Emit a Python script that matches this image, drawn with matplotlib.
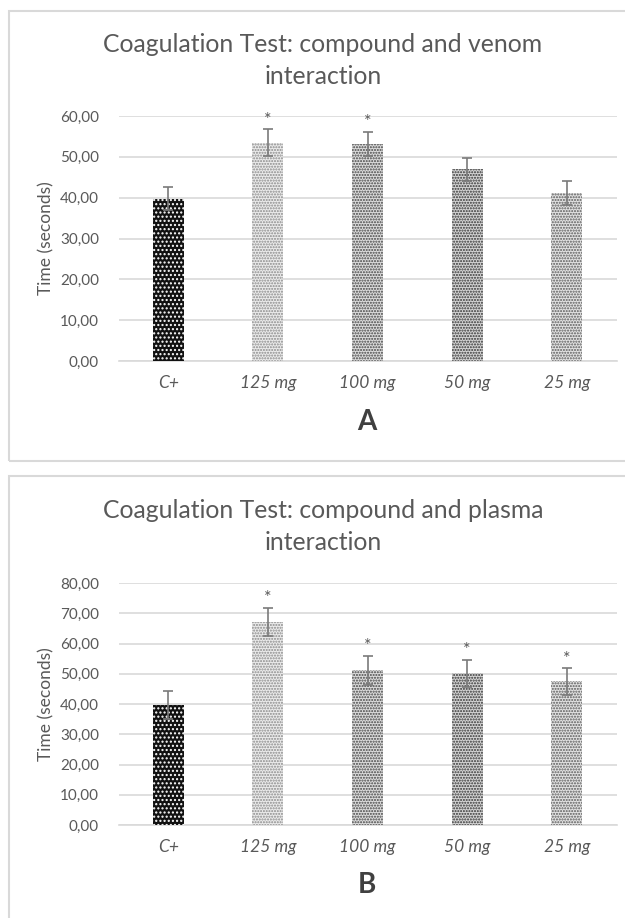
import numpy as np
import matplotlib.pyplot as plt
from matplotlib.patches import Rectangle

# data
categories = ['C+', '125 mg', '100 mg', '50 mg', '25 mg']

venom_means = [39.7, 53.5, 53.2, 46.9, 41.1]
venom_err = [2.8, 3.2, 3.0, 2.9, 3.0]
venom_star = [False, True, True, False, False]
venom_ticks = [0, 10, 20, 30, 40, 50, 60]

plasma_means = [39.7, 67.1, 51.2, 50.2, 47.5]
plasma_err = [4.6, 4.7, 4.8, 4.5, 4.4]
plasma_star = [False, True, True, True, True]
plasma_ticks = [0, 10, 20, 30, 40, 50, 60, 70, 80]

# bar looks (face, dot colour, hatch)
bar_face = ['#111111', '#ebebeb', '#dcdcdc', '#d4d4d4', '#e2e2e2']
bar_dots = ['white', '#8a8a8a', '#444444', '#333333', '#5a5a5a']
bar_hatch = ['....', '......', '......', '......', '......']

W, H = 625, 918
FONT = 'Lato'
plt.rcParams['font.family'] = [FONT, 'DejaVu Sans']
plt.rcParams['hatch.linewidth'] = 1.0

fig = plt.figure(figsize=(W / 100, H / 100), dpi=100)


def box(l, t, r, b):
    return [l / W, 1 - b / H, (r - l) / W, (b - t) / H]


def ftext(x, y, s, **kw):
    fig.text(x / W, 1 - y / H, s, ha='center', va='center', **kw)


# panel frames
for (t, b) in [(11, 461), (476, 930)]:
    fig.patches.append(Rectangle((9 / W, 1 - b / H), (640 - 9) / W, (b - t) / H,
                                 transform=fig.transFigure, fill=False,
                                 edgecolor='#d9d9d9', linewidth=1.5))


def panel(top, bottom, means, err, star, ticks, title1, title2, letter, ty, ly):
    ax = fig.add_axes(box(118.5, top, 616.5, bottom))
    x = np.arange(len(categories))
    bars = ax.bar(x, means, width=0.31, color=bar_face, edgecolor=bar_dots,
                  linewidth=0, zorder=2)
    for b, h in zip(bars, bar_hatch):
        b.set_hatch(h)
    ax.errorbar(x, means, yerr=err, fmt='none', ecolor='#7a7a7a',
                elinewidth=1.2, capsize=3.5, capthick=1.2, zorder=3)
    for i in range(len(categories)):
        if star[i]:
            ax.annotate('*', xy=(x[i], means[i] + err[i]), xytext=(0, 1),
                        textcoords='offset points', ha='center', va='bottom',
                        fontsize=13, color='#595959')
    ax.set_xlim(-0.5, len(categories) - 0.5)
    ax.set_ylim(ticks[0], ticks[-1])
    ax.set_yticks(ticks)
    ax.set_yticklabels([f'{v:.2f}'.replace('.', ',') for v in ticks])
    ax.set_xticks(x)
    ax.set_xticklabels(categories, fontstyle='italic', fontsize=12.5)
    ax.tick_params(length=0, labelcolor='#595959')
    ax.tick_params(axis='y', pad=14, labelsize=11)
    ax.tick_params(axis='x', pad=10)
    ax.grid(axis='y', color='#d9d9d9', linewidth=1.2, zorder=0)
    ax.set_axisbelow(True)
    for s in ['top', 'right', 'left']:
        ax.spines[s].set_visible(False)
    ax.spines['bottom'].set_color('#d9d9d9')
    ax.spines['bottom'].set_linewidth(1.2)
    ax.spines['bottom'].set_zorder(1)

    ftext(323, ty[0], title1, fontsize=17.8, color='#595959')
    ftext(323, ty[1], title2, fontsize=17.8, color='#595959')
    ftext(46, (top + bottom) / 2, 'Time (seconds)', rotation=90,
          fontsize=12.5, color='#595959')
    ftext(367, ly, letter, fontsize=20, fontweight='bold', color='#404040')
    return ax


panel(116, 361, venom_means, venom_err, venom_star, venom_ticks,
      'Coagulation Test: compound and venom', 'interaction', 'A', (45, 77), 422)
panel(583, 825, plasma_means, plasma_err, plasma_star, plasma_ticks,
      'Coagulation Test: compound and plasma', 'interaction', 'B', (510, 543), 885)

fig.savefig('out.png', dpi=100)
